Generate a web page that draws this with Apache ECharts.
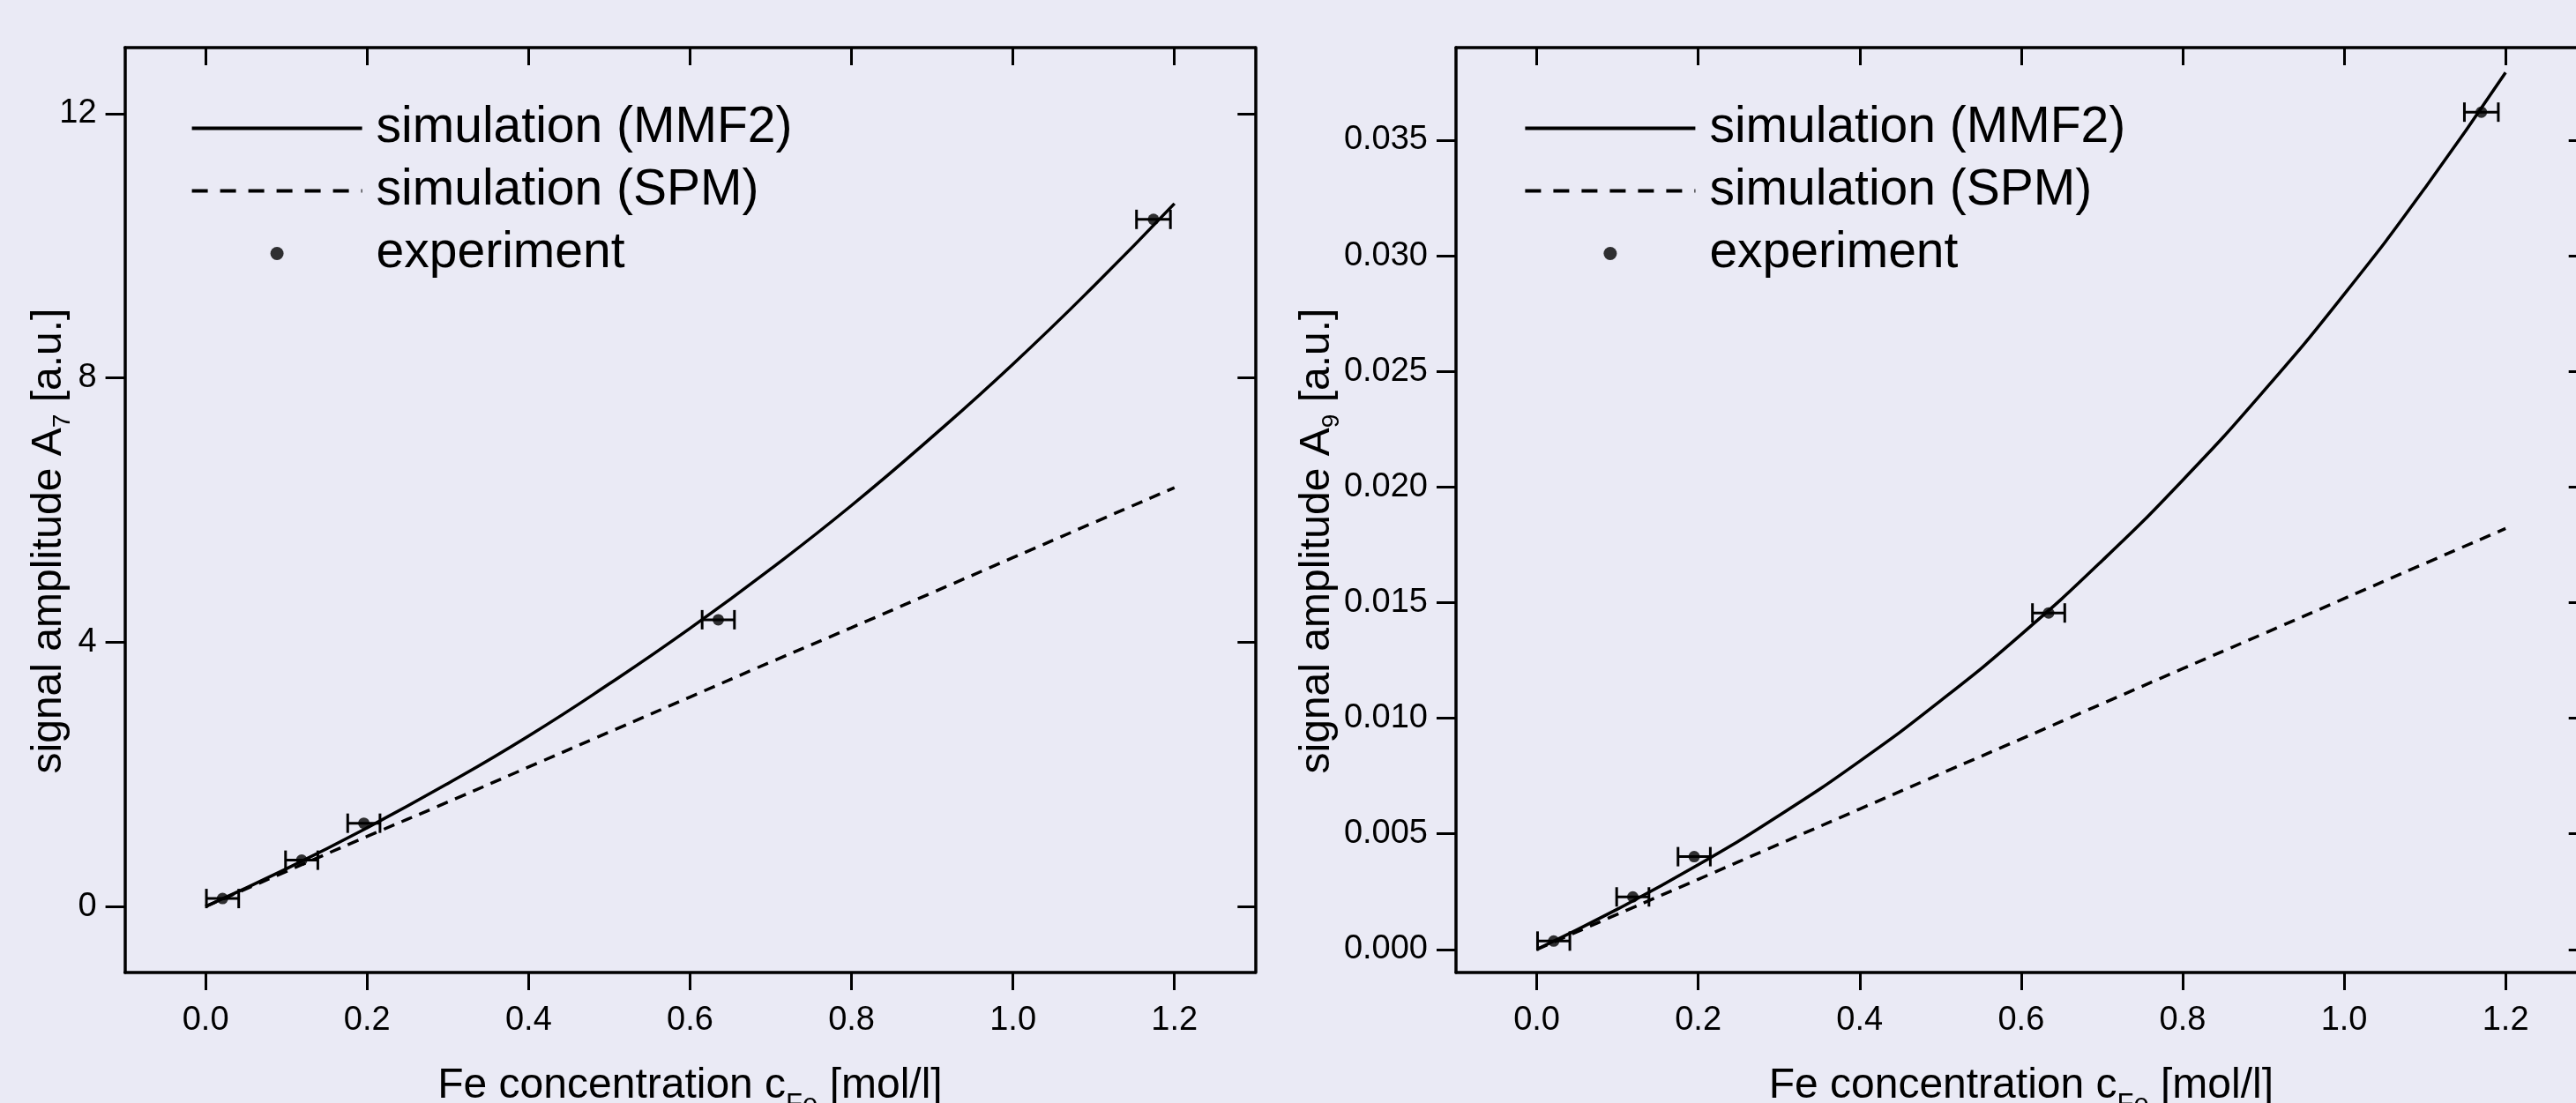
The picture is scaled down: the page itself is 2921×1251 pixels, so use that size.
<!DOCTYPE html>
<html>
<head>
<meta charset="utf-8">
<script src="https://cdn.jsdelivr.net/npm/echarts@6/dist/echarts.min.js"></script>
<style>
html,body{margin:0;padding:0;background:#EAEAF5;}
#chart{width:2921px;height:1251px;}
</style>
</head>
<body>
<div id="chart"></div>
<script>
// ---------- data ----------
const xTicks = [0, 0.2, 0.4, 0.6, 0.8, 1.0, 1.2];
const yTicksA7 = [0, 4, 8, 12];
const yTicksA9 = [0, 0.005, 0.010, 0.015, 0.020, 0.025, 0.030, 0.035];

const xSim = [0, 0.1, 0.2, 0.3, 0.4, 0.5, 0.6, 0.7, 0.8, 0.9, 1.0, 1.1, 1.2];
const mmf2A7 = [0, 0.57, 1.19, 1.86, 2.58, 3.37, 4.21, 5.11, 6.07, 7.11, 8.21, 9.39, 10.64];
const spmA7  = [0, 0.53, 1.06, 1.58, 2.11, 2.64, 3.17, 3.70, 4.22, 4.75, 5.28, 5.81, 6.34];
const mmf2A9 = [0, 0.00174, 0.00366, 0.00579, 0.00814, 0.01075, 0.01362, 0.01680, 0.02029, 0.02413, 0.02833, 0.03292, 0.03792];
const spmA9  = [0, 0.00152, 0.00303, 0.00455, 0.00607, 0.00759, 0.00910, 0.01062, 0.01214, 0.01365, 0.01517, 0.01669, 0.01820];

const xExpA7 = [0.021, 0.119, 0.196, 0.635, 1.174];
const yExpA7 = [0.12, 0.70, 1.26, 4.34, 10.40];
const xErrA7 = [0.020, 0.020, 0.020, 0.020, 0.021];

const xExpA9 = [0.021, 0.119, 0.195, 0.634, 1.170];
const yExpA9 = [0.00036, 0.00227, 0.00401, 0.01455, 0.03621];
const xErrA9 = [0.020, 0.020, 0.020, 0.020, 0.021];

const legendNames = ['simulation (MMF2)', 'simulation (SPM)', 'experiment'];

// ---------- styling helpers ----------
const FONT = '"Liberation Sans", Arial, sans-serif';
const BLACK = '#000';
const AXW = 3.5;

function pairs(xs, ys) { return xs.map((x, i) => [x, ys[i]]); }
function triples(xs, ys, es) { return xs.map((x, i) => [x, ys[i], es[i]]); }

function xAxes(gridIndex) {
  const base = {
    type: 'value', gridIndex, min: -0.1, max: 1.3,
    splitLine: { show: false },
    axisLine: { show: true, onZero: false, lineStyle: { color: BLACK, width: AXW } },
  };
  return [
    Object.assign({}, base, {
      position: 'bottom',
      axisTick: { show: true, inside: false, length: 20, customValues: xTicks, lineStyle: { color: BLACK, width: 3 } },
      axisLabel: { show: true, customValues: xTicks, margin: 36, color: BLACK, fontSize: 38, fontFamily: FONT,
        formatter: v => Number(v).toFixed(1) },
      name: '{m|Fe concentration c}{s|Fe}{m| [mol/l]}',
      nameLocation: 'middle', nameGap: 133, nameMoveOverlap: false,
      nameTextStyle: { verticalAlign: 'top', rich: {
        m: { fontSize: 48, lineHeight: 48, padding: [0, 0, 56, 0], fontFamily: FONT, color: BLACK },
        s: { fontSize: 31, lineHeight: 31, padding: [30, 0, 43, 0], fontFamily: FONT, color: BLACK }
      } }
    }),
    Object.assign({}, base, {
      position: 'top',
      axisTick: { show: true, inside: true, length: 20, customValues: xTicks, lineStyle: { color: BLACK, width: 3 } },
      axisLabel: { show: false }
    })
  ];
}

function yAxes(gridIndex, min, max, ticks, fmt, sub, gap) {
  const base = {
    type: 'value', gridIndex, min, max,
    splitLine: { show: false },
    axisLine: { show: true, onZero: false, lineStyle: { color: BLACK, width: AXW } },
  };
  return [
    Object.assign({}, base, {
      position: 'left',
      axisTick: { show: true, inside: false, length: 22, customValues: ticks, lineStyle: { color: BLACK, width: 3 } },
      axisLabel: { show: true, customValues: ticks, margin: 32, color: BLACK, fontSize: 38, fontFamily: FONT, formatter: fmt },
      name: '{m|signal amplitude A}{s|' + sub + '}{m| [a.u.]}',
      nameLocation: 'middle', nameGap: gap, nameRotate: 90, nameMoveOverlap: false,
      nameTextStyle: { verticalAlign: 'bottom', padding: [0, 70, 0, 0], rich: {
        m: { fontSize: 48, lineHeight: 48, padding: [0, 0, 32, 0], fontFamily: FONT, color: BLACK },
        s: { fontSize: 28, lineHeight: 28, padding: [26, 0, 26, 0], fontFamily: FONT, color: BLACK }
      } }
    }),
    Object.assign({}, base, {
      position: 'right',
      axisTick: { show: true, inside: true, length: 20, customValues: ticks, lineStyle: { color: BLACK, width: 3 } },
      axisLabel: { show: false }
    })
  ];
}

function errorBarSeries(xi, yi, data) {
  return {
    type: 'custom', xAxisIndex: xi, yAxisIndex: yi, z: 3,
    data,
    renderItem(params, api) {
      const x = api.value(0), y = api.value(1), e = api.value(2);
      const a = api.coord([x - e, y]);
      const b = api.coord([x + e, y]);
      const h = 11;
      const st = { stroke: BLACK, lineWidth: 3, fill: null };
      return { type: 'group', children: [
        { type: 'line', shape: { x1: a[0], y1: a[1], x2: b[0], y2: b[1] }, style: st },
        { type: 'line', shape: { x1: a[0], y1: a[1] - h, x2: a[0], y2: a[1] + h }, style: st },
        { type: 'line', shape: { x1: b[0], y1: b[1] - h, x2: b[0], y2: b[1] + h }, style: st }
      ] };
    }
  };
}

function panelSeries(xi, yi, mmf2, spm, xe, ye, ee) {
  return [
    { name: legendNames[0], type: 'line', xAxisIndex: xi, yAxisIndex: yi, symbol: 'none', smooth: true,
      data: pairs(xSim, mmf2), lineStyle: { color: BLACK, width: 3.5 }, itemStyle: { color: BLACK }, z: 2 },
    { name: legendNames[1], type: 'line', xAxisIndex: xi, yAxisIndex: yi, symbol: 'none', smooth: true,
      data: pairs(xSim, spm), lineStyle: { color: BLACK, width: 3.5, type: [13, 9] }, itemStyle: { color: BLACK }, z: 2 },
    errorBarSeries(xi, yi, triples(xe, ye, ee)),
    { name: legendNames[2], type: 'scatter', xAxisIndex: xi, yAxisIndex: yi, symbol: 'circle', symbolSize: 13,
      data: pairs(xe, ye), itemStyle: { color: BLACK }, z: 4 }
  ];
}

function legend(left) {
  const hidden = { color: 'rgba(0,0,0,0)', opacity: 0, borderWidth: 0 };
  return {
    orient: 'vertical', left, top: 117, padding: 0,
    itemWidth: 193, itemHeight: 15, itemGap: 14,
    data: [
      { name: legendNames[0], itemStyle: hidden, lineStyle: { width: 4, color: BLACK, type: 'solid' } },
      { name: legendNames[1], itemStyle: hidden, lineStyle: { width: 4, color: BLACK, type: [18, 14] } },
      { name: legendNames[2] }
    ],
    selectedMode: false,
    textStyle: { fontSize: 57, fontFamily: FONT, color: BLACK, padding: [0, 0, 0, 11] }
  };
}

const chart = echarts.init(document.getElementById('chart'), null, { renderer: 'canvas' });
chart.setOption({
  backgroundColor: '#EAEAF5',
  animation: false,
  grid: [
    { left: 141.6, top: 54, width: 1281.7, height: 1049, outerBoundsMode: 'none', containLabel: false },
    { left: 1651, top: 54, width: 1281.7, height: 1049, outerBoundsMode: 'none', containLabel: false }
  ],
  legend: [legend(215.6), legend(1727.4)],
  xAxis: [].concat(xAxes(0), xAxes(1)),
  yAxis: [].concat(
    yAxes(0, -1, 13, yTicksA7, v => String(v), '7', 46),
    yAxes(1, -0.001, 0.039, yTicksA9, v => Number(v).toFixed(3), '9', 117)
  ),
  series: [].concat(
    panelSeries(0, 0, mmf2A7, spmA7, xExpA7, yExpA7, xErrA7),
    panelSeries(2, 2, mmf2A9, spmA9, xExpA9, yExpA9, xErrA9)
  )
});
</script>
</body>
</html>
